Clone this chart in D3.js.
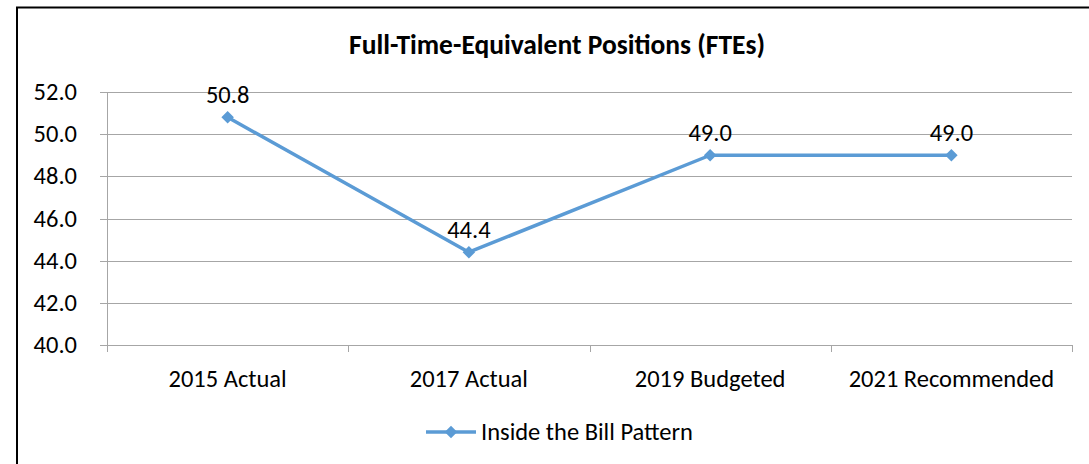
<!DOCTYPE html>
<html>
<head>
<meta charset="utf-8">
<script src="https://cdn.jsdelivr.net/npm/d3@7"></script>
<style>
    body { margin: 0; background: #fff; }
    text { font-family: Carlito, Calibri, Lato, sans-serif; fill: #000; }
</style>
</head>
<body>
<script>
var categories = ["2015 Actual", "2017 Actual", "2019 Budgeted", "2021 Recommended"];
var values = [50.8, 44.4, 49.0, 49.0];
var yTicks = [40, 42, 44, 46, 48, 50, 52];
var seriesName = "Inside the Bill Pattern";
var chartTitle = "Full-Time-Equivalent Positions (FTEs)";

var lineColor = "#5b9bd5";
var fontSize = "24.5px";

function init() {
    let width = 1089;
    let height = 464;
    let margin = { left: 107, right: 17, top: 92, bottom: 119 };

    let svg = d3.select("body")
        .append("svg")
        .attr("width", width)
        .attr("height", height);

    // outer chart border
    svg.append("rect")
        .attr("x", 17)
        .attr("y", 7.5)
        .attr("width", width + 20)
        .attr("height", height + 20)
        .attr("fill", "none")
        .attr("stroke", "#000")
        .attr("stroke-width", 2);

    let x = d3.scaleBand()
        .domain(categories)
        .range([margin.left, width - margin.right]);

    let y = d3.scaleLinear()
        .domain([40, 52])
        .range([height - margin.bottom, margin.top]);

    // title
    svg.append("text")
        .attr("x", 557)
        .attr("y", 54)
        .attr("text-anchor", "middle")
        .attr("font-size", "27.5px")
        .attr("font-weight", "bold")
        .text(chartTitle);

    // gridlines
    svg.append("g")
        .selectAll("line")
        .data(yTicks)
        .enter()
        .append("line")
        .attr("x1", margin.left - 7)
        .attr("x2", width - margin.right)
        .attr("y1", (d) => Math.round(y(d)) + 0.5)
        .attr("y2", (d) => Math.round(y(d)) + 0.5)
        .attr("stroke", "#a6a6a6")
        .attr("stroke-width", 1);

    // y axis line
    svg.append("line")
        .attr("x1", margin.left + 0.5)
        .attr("x2", margin.left + 0.5)
        .attr("y1", y(52))
        .attr("y2", y(40))
        .attr("stroke", "#a6a6a6");

    // y labels
    svg.append("g")
        .selectAll("text")
        .data(yTicks)
        .enter()
        .append("text")
        .attr("x", 77)
        .attr("y", (d) => y(d) + 8)
        .attr("text-anchor", "end")
        .attr("font-size", fontSize)
        .text((d) => d.toFixed(1));

    // x axis ticks at band edges
    let edges = categories.map((c) => x(c)).concat([width - margin.right]);
    svg.append("g")
        .selectAll("line")
        .data(edges)
        .enter()
        .append("line")
        .attr("x1", (d) => Math.round(d) + 0.5)
        .attr("x2", (d) => Math.round(d) + 0.5)
        .attr("y1", y(40))
        .attr("y2", y(40) + 7)
        .attr("stroke", "#a6a6a6");

    svg.append("g")
        .selectAll("text")
        .data(categories)
        .enter()
        .append("text")
        .attr("x", (d) => x(d) + x.bandwidth() / 2)
        .attr("y", y(40) + 42)
        .attr("text-anchor", "middle")
        .attr("font-size", fontSize)
        .text((d) => d);

    // series line
    let line = d3.line()
        .x((d, i) => x(categories[i]) + x.bandwidth() / 2)
        .y((d) => y(d));

    svg.append("path")
        .datum(values)
        .attr("d", line)
        .attr("fill", "none")
        .attr("stroke", lineColor)
        .attr("stroke-width", 3.5)
        .attr("stroke-linejoin", "round");

    let diamond = d3.symbol().type(d3.symbolDiamond2).size(100);

    svg.append("g")
        .selectAll("path")
        .data(values)
        .enter()
        .append("path")
        .attr("d", diamond)
        .attr("transform", (d, i) => "translate(" + (x(categories[i]) + x.bandwidth() / 2) + "," + y(d) + ")")
        .attr("fill", lineColor);

    // data labels
    svg.append("g")
        .selectAll("text")
        .data(values)
        .enter()
        .append("text")
        .attr("x", (d, i) => x(categories[i]) + x.bandwidth() / 2)
        .attr("y", (d) => y(d) - 14)
        .attr("text-anchor", "middle")
        .attr("font-size", fontSize)
        .text((d) => d.toFixed(1));

    // legend
    let legend = svg.append("g");
    legend.append("line")
        .attr("x1", 426)
        .attr("x2", 476)
        .attr("y1", 432)
        .attr("y2", 432)
        .attr("stroke", lineColor)
        .attr("stroke-width", 3.5);
    legend.append("path")
        .attr("d", diamond)
        .attr("transform", "translate(451,432)")
        .attr("fill", lineColor);
    legend.append("text")
        .attr("x", 481)
        .attr("y", 440)
        .attr("font-size", fontSize)
        .text(seriesName);
}

init();
</script>
</body>
</html>
